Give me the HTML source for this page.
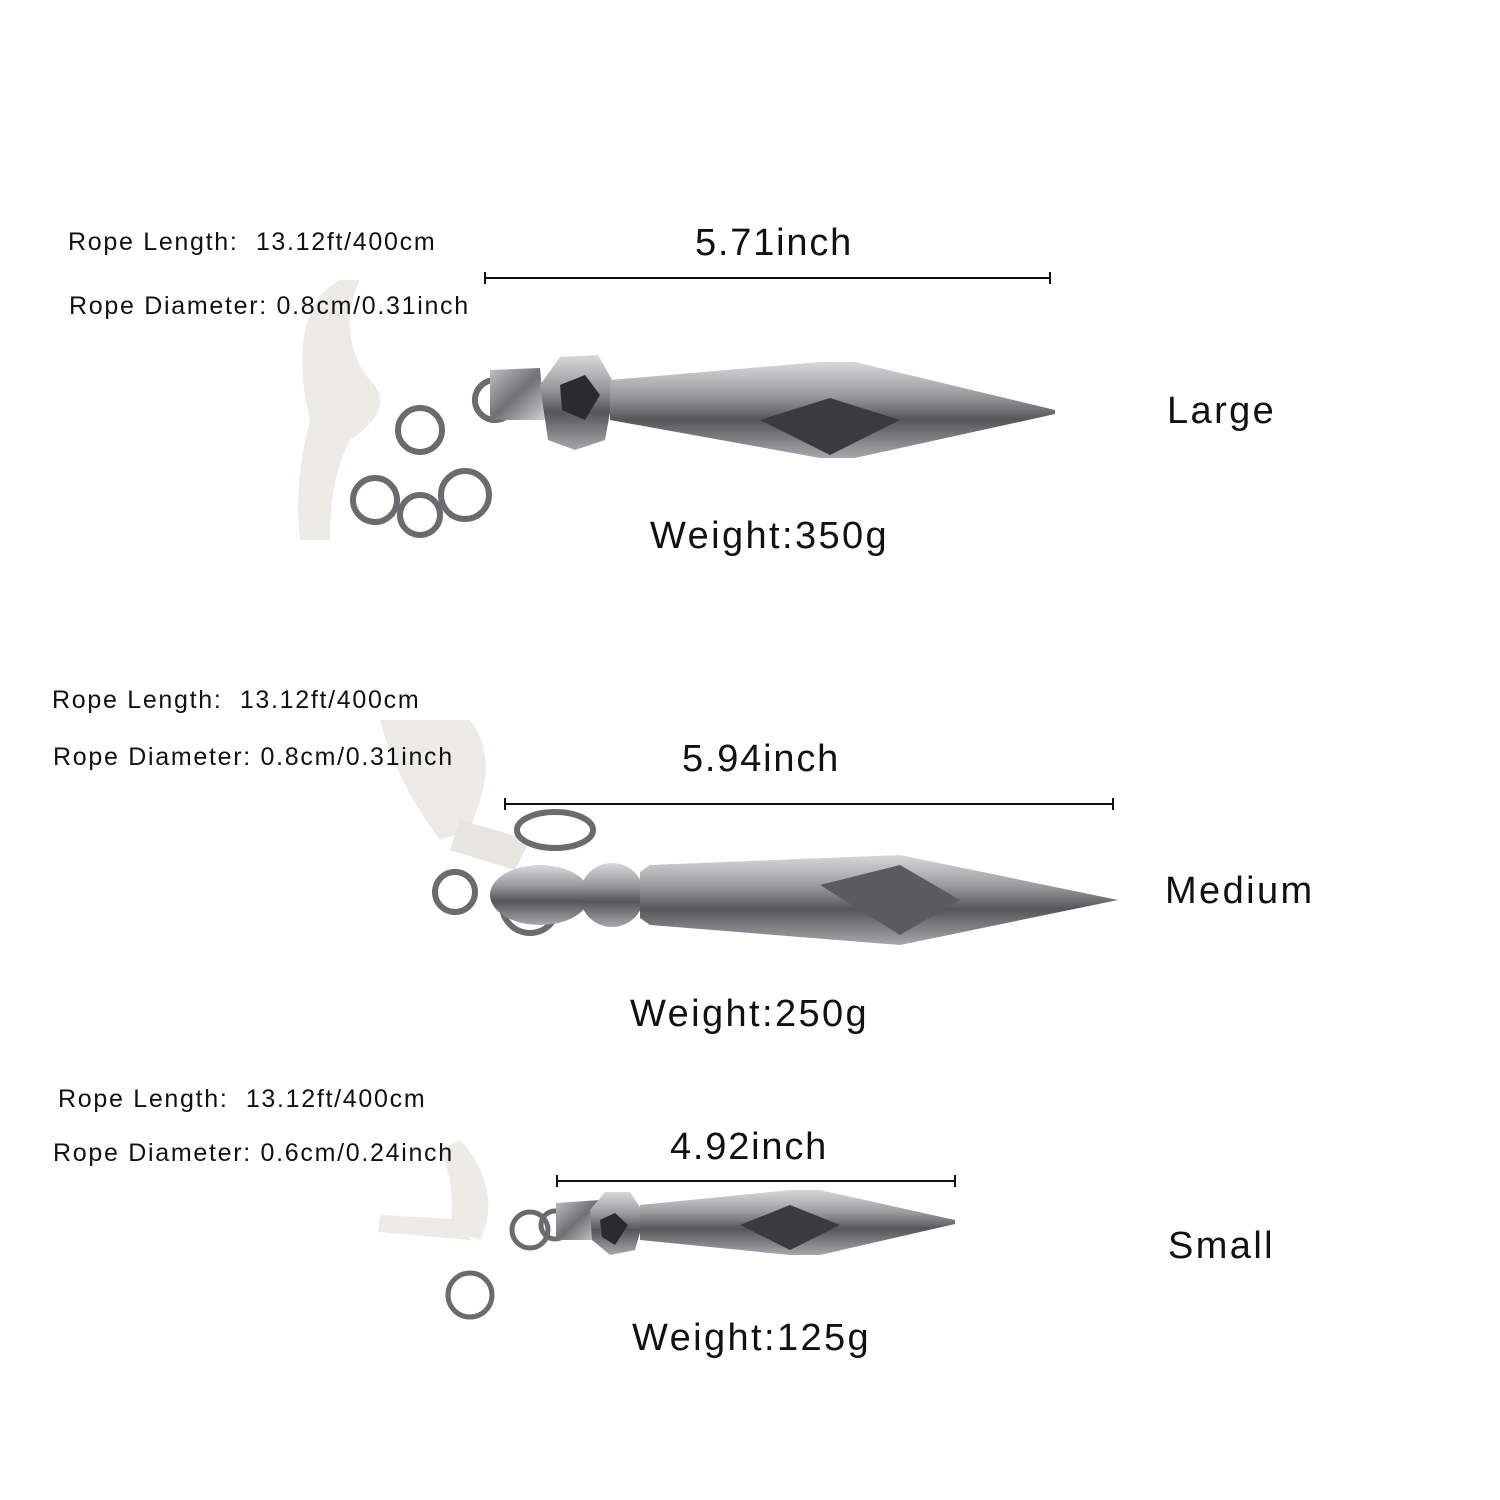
<!DOCTYPE html>
<html><head><meta charset="utf-8"><style>
html,body{margin:0;padding:0;background:#fff;}
body{width:1500px;height:1500px;position:relative;overflow:hidden;font-family:"Liberation Sans","DejaVu Sans",sans-serif;color:#111;}
.t{position:absolute;white-space:nowrap;line-height:1;}
.s{font-size:25px;letter-spacing:1.7px;}
.b{font-size:38px;letter-spacing:2.4px;}
.m{font-size:38px;letter-spacing:1.8px;}
svg{position:absolute;left:0;top:0;}
</style></head><body>
<svg width="1500" height="1500" viewBox="0 0 1500 1500">
<defs>
<linearGradient id="m" x1="0" y1="0" x2="0" y2="1">
<stop offset="0" stop-color="#d8d8da"/><stop offset="0.35" stop-color="#9a9a9e"/><stop offset="0.6" stop-color="#55565a"/><stop offset="1" stop-color="#a8a8ac"/></linearGradient>
<linearGradient id="m2" x1="0" y1="0" x2="1" y2="1">
<stop offset="0" stop-color="#bfc0c3"/><stop offset="0.5" stop-color="#707175"/><stop offset="1" stop-color="#cfd0d2"/></linearGradient>
</defs>
<g stroke="#111" stroke-width="2">
<line x1="485" y1="278" x2="1050" y2="278"/><line x1="485" y1="272" x2="485" y2="284"/><line x1="1050" y1="272" x2="1050" y2="284"/>
<line x1="505" y1="804" x2="1113" y2="804"/><line x1="505" y1="798" x2="505" y2="810"/><line x1="1113" y1="798" x2="1113" y2="810"/>
<line x1="557" y1="1181" x2="955" y2="1181"/><line x1="557" y1="1175" x2="557" y2="1187"/><line x1="955" y1="1175" x2="955" y2="1187"/>
</g>
<!-- Large -->
<path d="M340 280 C300 300 295 360 310 420 C300 460 295 500 300 540 L330 540 C330 500 335 470 350 440 C380 420 390 400 370 380 C345 350 345 310 360 280Z" fill="#ecebe6"/>
<g fill="none" stroke="#6a6b6f" stroke-width="6">
<circle cx="420" cy="430" r="22"/><circle cx="375" cy="500" r="22"/><circle cx="420" cy="515" r="20"/><circle cx="465" cy="495" r="24"/><circle cx="495" cy="400" r="20"/></g>
<path d="M490 370 L540 368 L545 420 L490 420Z" fill="url(#m2)"/>
<polygon points="540,385 560,357 598,355 615,385 605,440 575,450 548,440" fill="url(#m)"/>
<polygon points="560,385 585,375 600,395 585,420 562,410" fill="#2a2b30"/>
<path d="M610 380 L820 362 L855 362 L1055 410 L1055 414 L855 458 L820 458 L610 420Z" fill="url(#m)"/>
<polygon points="760,420 830,398 900,420 830,455" fill="#3a3b40"/>
<!-- Medium -->
<path d="M380 720 L470 720 C500 760 480 800 470 830 L440 840 C410 800 390 760 380 720Z" fill="#ecebe6"/>
<path d="M460 820 L530 840 L515 870 L450 850Z" fill="#e6e5e0"/>
<g fill="none" stroke="#6a6b6f" stroke-width="6">
<ellipse cx="555" cy="830" rx="38" ry="18"/><circle cx="455" cy="892" r="20"/><circle cx="530" cy="905" r="28"/></g>
<ellipse cx="540" cy="895" rx="50" ry="30" fill="url(#m)"/>
<circle cx="612" cy="895" r="32" fill="url(#m)"/>
<path d="M640 872 L650 865 L900 855 L1118 900 L900 945 L650 925 L640 918Z" fill="url(#m)"/>
<polygon points="820,885 900,865 960,900 900,935" fill="#5a5b60"/>
<!-- Small -->
<path d="M460 1140 C480 1160 500 1200 480 1240 L450 1230 C455 1200 450 1170 440 1150Z M380 1215 L470 1220 L470 1240 L378 1232Z" fill="#ecebe6"/>
<g fill="none" stroke="#6a6b6f" stroke-width="5">
<circle cx="470" cy="1295" r="22"/><circle cx="530" cy="1230" r="18"/><circle cx="555" cy="1225" r="14"/></g>
<path d="M556 1203 L600 1200 L600 1240 L556 1240Z" fill="url(#m2)"/>
<polygon points="590,1210 605,1192 630,1192 645,1215 635,1250 610,1255 592,1240" fill="url(#m)"/>
<polygon points="600,1220 615,1213 628,1225 615,1245 602,1237" fill="#2a2b30"/>
<path d="M640 1205 L790 1190 L820 1190 L955 1220 L955 1224 L820 1255 L790 1255 L640 1240Z" fill="url(#m)"/>
<polygon points="740,1225 790,1205 840,1225 790,1250" fill="#3a3b40"/>
</svg>
<div class="t s" style="left:68px;top:230px">Rope Length:&nbsp; 13.12ft/400cm</div>
<div class="t s" style="left:69px;top:294px">Rope Diameter: 0.8cm/0.31inch</div>
<div class="t m" style="left:695px;top:224px">5.71inch</div>
<div class="t b" style="left:1167px;top:392px">Large</div>
<div class="t b" style="left:650px;top:517px">Weight:350g</div>
<div class="t s" style="left:52px;top:688px">Rope Length:&nbsp; 13.12ft/400cm</div>
<div class="t s" style="left:53px;top:745px">Rope Diameter: 0.8cm/0.31inch</div>
<div class="t m" style="left:682px;top:740px">5.94inch</div>
<div class="t b" style="left:1165px;top:872px">Medium</div>
<div class="t b" style="left:630px;top:995px">Weight:250g</div>
<div class="t s" style="left:58px;top:1087px">Rope Length:&nbsp; 13.12ft/400cm</div>
<div class="t s" style="left:53px;top:1141px">Rope Diameter: 0.6cm/0.24inch</div>
<div class="t m" style="left:670px;top:1128px">4.92inch</div>
<div class="t b" style="left:1168px;top:1227px">Small</div>
<div class="t b" style="left:632px;top:1319px">Weight:125g</div>
</body></html>
